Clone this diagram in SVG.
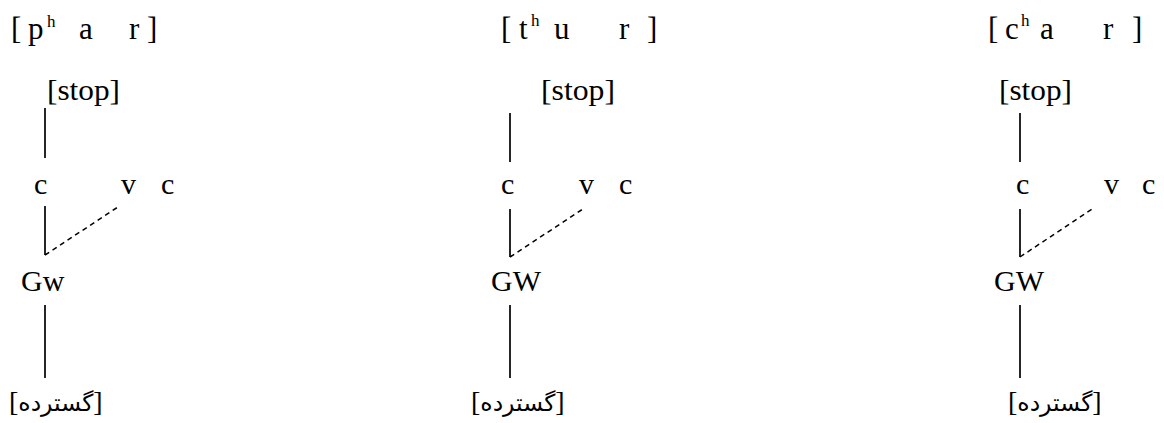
<svg xmlns="http://www.w3.org/2000/svg" width="1164" height="423" viewBox="0 0 1164 423">
<style>
text{font-family:"Liberation Serif","DejaVu Sans",serif;font-size:30px;fill:#000}
.top{font-size:31px}
.sup{font-size:17px}
.br{font-size:28px}
.aw{font-family:"DejaVu Sans",sans-serif;font-size:23.5px}
.ln{stroke:#000;stroke-width:1.7;fill:none}
.dash{stroke:#000;stroke-width:1.5;fill:none;stroke-dasharray:5 4}
</style>
<rect width="1164" height="423" fill="#fff"/>
<g id="word1">
<text class="top" y="39"><tspan x="11">[</tspan><tspan x="28">p</tspan><tspan x="79">a</tspan><tspan x="129">r</tspan><tspan x="147">]</tspan></text>
<text class="sup" x="47" y="27">h</text>
</g>
<g id="stop1"><text x="47" y="100" textLength="73" lengthAdjust="spacingAndGlyphs">[stop]</text></g>
<g id="c1"><text x="34" y="194">c</text></g>
<g id="v1"><text x="121" y="194">v</text></g>
<g id="c1b"><text x="161" y="194">c</text></g>
<g id="gw1"><text x="21" y="291">Gw</text></g>
<g id="gost1"><text x="9" y="411" direction="ltr"><tspan class="br">[</tspan><tspan class="aw">گسترده</tspan><tspan class="br">]</tspan></text></g>

<g id="word2">
<text class="top" y="39"><tspan x="501">[</tspan><tspan x="519">t</tspan><tspan x="554">u</tspan><tspan x="619">r</tspan><tspan x="647">]</tspan></text>
<text class="sup" x="531" y="26">h</text>
</g>
<g id="stop2"><text x="541" y="100" textLength="74" lengthAdjust="spacingAndGlyphs">[stop]</text></g>
<g id="c2"><text x="501" y="194">c</text></g>
<g id="v2"><text x="579" y="194">v</text></g>
<g id="c2b"><text x="619" y="194">c</text></g>
<g id="gw2"><text x="491" y="291">GW</text></g>
<g id="gost2"><text x="471" y="411" direction="ltr"><tspan class="br">[</tspan><tspan class="aw">گسترده</tspan><tspan class="br">]</tspan></text></g>

<g id="word3">
<text class="top" y="39"><tspan x="988">[</tspan><tspan x="1005">c</tspan><tspan x="1040">a</tspan><tspan x="1103">r</tspan><tspan x="1132">]</tspan></text>
<text class="sup" x="1021" y="26">h</text>
</g>
<g id="stop3"><text x="999" y="100" textLength="73" lengthAdjust="spacingAndGlyphs">[stop]</text></g>
<g id="c3"><text x="1016" y="194">c</text></g>
<g id="v3"><text x="1104" y="194">v</text></g>
<g id="c3b"><text x="1142" y="194">c</text></g>
<g id="gw3"><text x="994" y="291">GW</text></g>
<g id="gost3"><text x="1008" y="411" direction="ltr"><tspan class="br">[</tspan><tspan class="aw">گسترده</tspan><tspan class="br">]</tspan></text></g>

<g id="connectors">
<line class="ln" x1="45" y1="108" x2="45" y2="158"/>
<line class="ln" x1="45" y1="206" x2="45" y2="255"/>
<line class="dash" x1="45" y1="255" x2="118" y2="207"/>
<line class="ln" x1="45" y1="305" x2="45" y2="378"/>
<line class="ln" x1="510" y1="113" x2="510" y2="162"/>
<line class="ln" x1="510" y1="209" x2="510" y2="257"/>
<line class="dash" x1="510" y1="257" x2="583" y2="209"/>
<line class="ln" x1="510" y1="305" x2="510" y2="378"/>
<line class="ln" x1="1020" y1="113" x2="1020" y2="162"/>
<line class="ln" x1="1020" y1="209" x2="1020" y2="257"/>
<line class="dash" x1="1020" y1="257" x2="1092" y2="209"/>
<line class="ln" x1="1020" y1="305" x2="1020" y2="378"/>
</g>
</svg>
